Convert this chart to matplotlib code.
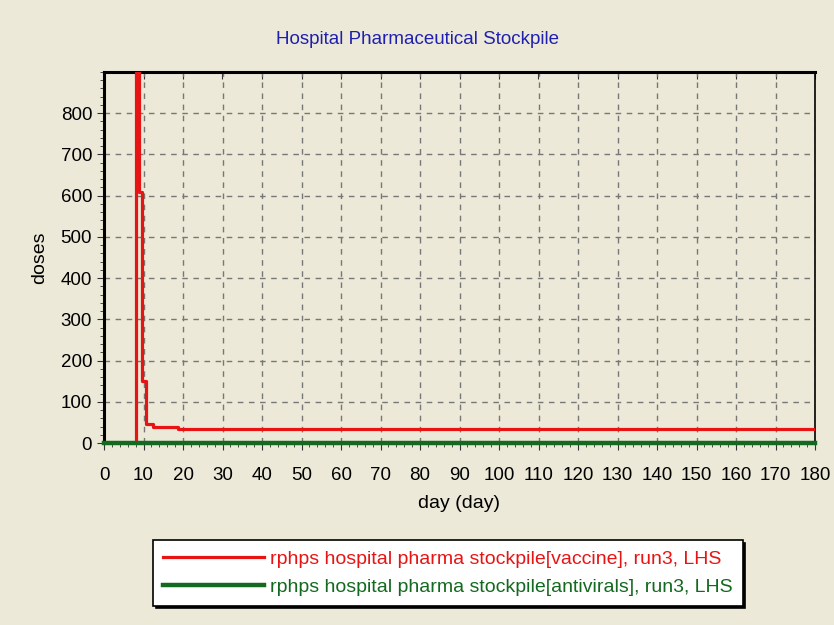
import matplotlib.pyplot as plt
from matplotlib.ticker import MultipleLocator

plt.rcParams['font.family'] = ['Liberation Sans', 'DejaVu Sans']

# vaccine stockpile (step series)
days_vac = [0, 8.0, 8.9, 9.6, 10.7, 12.4, 18.7, 180]
vaccine = [0, 5000, 610, 150, 45, 40, 35, 35]

# antivirals stay at zero the whole run
days_av = [0, 180]
antivirals = [0, 0]

bg = '#ece9d8'
fig = plt.figure(figsize=(8.34, 6.25), dpi=100, facecolor=bg)
ax = fig.add_axes([104/834, 1-443/625, (815-104)/834, (443-72)/625])
ax.set_facecolor(bg)

ax.plot(days_vac, vaccine, drawstyle='steps-post', color='#e81414', lw=2.3,
        label='rphps hospital pharma stockpile[vaccine], run3, LHS', zorder=3)
ax.plot(days_av, antivirals, color='#13691f', lw=3.2,
        label='rphps hospital pharma stockpile[antivirals], run3, LHS', zorder=4, clip_on=False)

ax.set_xlim(0, 180)
ax.set_ylim(0, 900)
ax.xaxis.set_major_locator(MultipleLocator(10))
ax.xaxis.set_minor_locator(MultipleLocator(2))
ax.yaxis.set_minor_locator(MultipleLocator(20))
ax.set_yticks(range(0, 900, 100))
ax.tick_params(axis='both', which='major', labelsize=13.5, length=5, color='#333333')
ax.tick_params(axis='x', which='major', pad=12)
ax.tick_params(axis='both', which='minor', length=3, color='#333333')
ax.grid(True, which='major', linestyle=(0, (4, 4)), color='#777777', lw=1)

# small inward ticks along the top edge
top = ax.secondary_xaxis('top')
top.xaxis.set_major_locator(MultipleLocator(10))
top.tick_params(direction='in', length=5, labeltop=False, color='#333333')
top.spines['top'].set_visible(False)

for side in ['left', 'top']:
    ax.spines[side].set_linewidth(2.2)
for side in ['right', 'bottom']:
    ax.spines[side].set_linewidth(1.2)

ax.set_xlabel('day (day)', fontsize=14, labelpad=8)
ax.set_ylabel('doses', fontsize=14, labelpad=9)
fig.text(0.5, 1-40/625, 'Hospital Pharmaceutical Stockpile', color='#2020b0',
         fontsize=13.5, ha='center', va='center')

leg = fig.legend(loc='center', bbox_to_anchor=(448/834, 1-573/625), fontsize=14,
                 handlelength=5.2, handletextpad=0.3, labelspacing=0.55,
                 frameon=True, fancybox=False, shadow={'color': 'black', 'alpha': 1},
                 edgecolor='black', facecolor='white', framealpha=1,
                 labelcolor='linecolor', borderpad=0.5, borderaxespad=0)
leg.get_frame().set_linewidth(1.2)

fig.savefig('out.png', dpi=100, facecolor=bg)
